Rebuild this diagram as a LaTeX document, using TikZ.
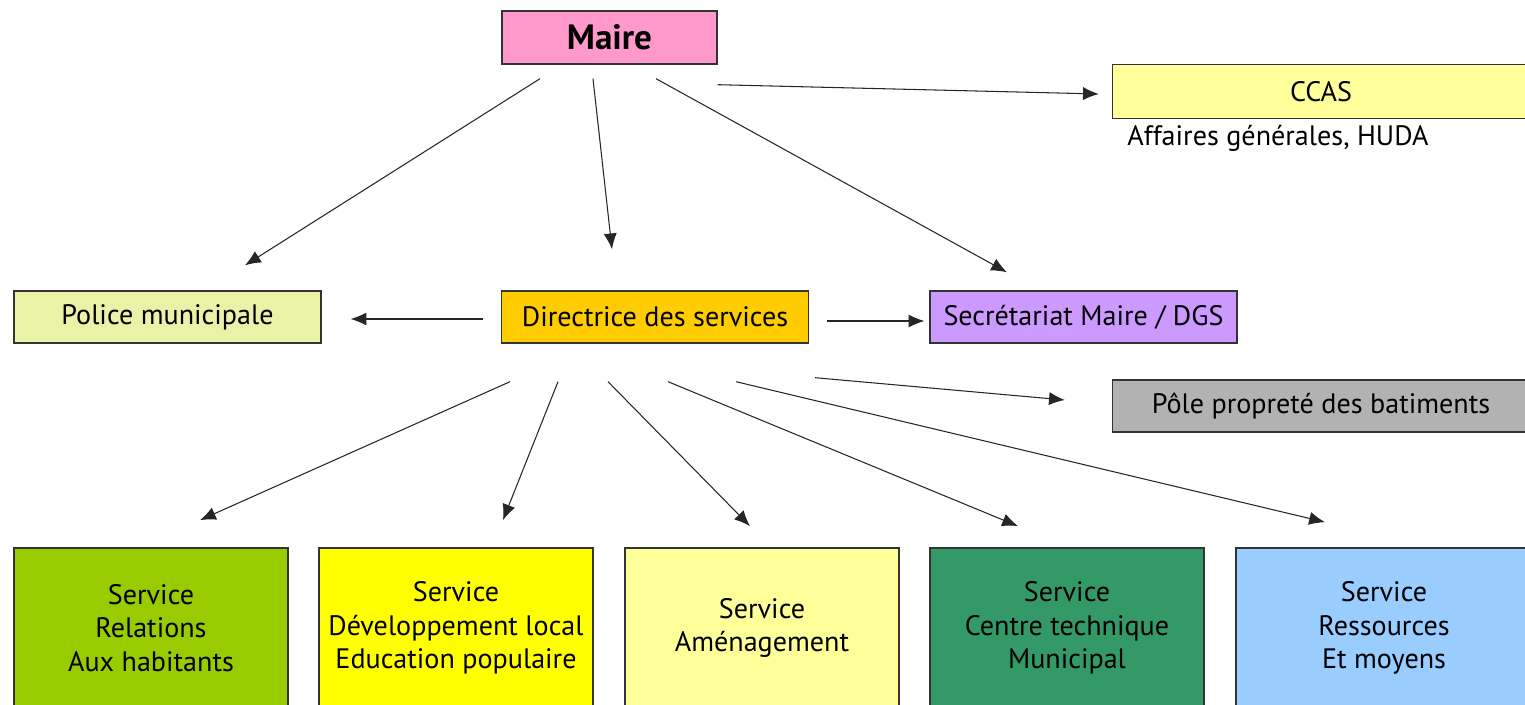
\documentclass[tikz,border=0pt]{standalone}
\usepackage{fontspec}
\setmainfont{PT Sans}
\usetikzlibrary{positioning}
\usetikzlibrary{arrows.meta,calc}
\definecolor{mairepink}{RGB}{255,153,204}
\definecolor{paleyellow}{RGB}{255,255,153}
\definecolor{policegreen}{RGB}{234,242,168}
\definecolor{dirorange}{RGB}{255,204,0}
\definecolor{secrviolet}{RGB}{204,153,255}
\definecolor{polegray}{RGB}{178,178,178}
\definecolor{relgreen}{RGB}{153,204,0}
\definecolor{devyellow}{RGB}{255,255,0}
\definecolor{ctmgreen}{RGB}{51,153,102}
\definecolor{resblue}{RGB}{153,204,255}

\begin{document}
\begin{tikzpicture}[x=0.02cm,y=-0.02cm, %one unit is one pixel of the chart
font=\fontsize{16}{19.2}\selectfont,
boxrow/.style ={rectangle, draw=black!80, line width=0.8pt, minimum width=6.14cm, minimum height=1.04cm, inner sep=0pt},
boxwide/.style ={rectangle, draw=black!80, line width=0.8pt, minimum width=8.34cm, minimum height=1.08cm, inner sep=0pt},
service/.style ={rectangle, draw=black!80, line width=1pt, minimum width=5.48cm, minimum height=3.2cm, align=center, inner sep=0pt},
arr/.style ={-{Latex[length=9pt,width=7.5pt]}, line width=0.6pt, black!85}
]
\useasboundingbox (0,0) rectangle (1525,705);
%top box
\path (609.5,37.5) node[boxrow, fill=mairepink, minimum width=4.3cm, minimum height=1.06cm, font=\fontsize{20}{24}\selectfont\bfseries] (maire) {Maire}
(1321,91.5) node[boxwide, fill=paleyellow] (ccas) {CCAS}
(1127,138) node[anchor=west, inner sep=0pt] (ccasnote) {Affaires générales, HUDA};
%middle row
\path (167.5,317) node[boxrow, fill=policegreen] (police) {Police municipale}
(655,317) node[boxrow, fill=dirorange] (dir) {Directrice des services}
(1083.5,317) node[boxrow, fill=secrviolet] (secr) {Secrétariat Maire / DGS}
(1321,406) node[boxwide, fill=polegray, minimum height=1.04cm] (pole) {Pôle propreté des batiments};
%services
\path (151,628) node[service, fill=relgreen] (rel) {Service\\Relations\\Aux habitants}
(456,628) node[service, fill=devyellow] (dev) {Service\\Développement local\\Education populaire}
(762,628) node[service, fill=paleyellow] (amen) {Service\\Aménagement}
(1067,628) node[service, fill=ctmgreen] (ctm) {Service\\Centre technique\\Municipal}
(1384,628) node[service, fill=resblue, minimum width=5.92cm] (res) {Service\\Ressources\\Et moyens};
%arrows from maire
\draw[arr] ($(maire.south)+(-69.5,14)$) -- ($(police.north)+(77.5,-25)$);
\draw[arr] ($(maire.south)+(-16.5,14)$) -- ($(dir.north)+(-43,-41)$);
\draw[arr] ($(maire.south)+(46.5,14)$) -- ($(secr.north)+(-76.5,-18)$);
\draw[arr] ($(maire.south east)+(0,20)$) -- ($(ccas.west)+(-13,2.5)$);
%arrows from directrice, sideways
\draw[arr] ($(dir.west)+(-18,2)$) -- ($(police.east)+(29,2)$);
\draw[arr] ($(dir.east)+(18,4)$) -- ($(secr.west)+(-5,4)$);
\draw[arr] ($(dir.south)+(160,34)$) -- ($(pole.west)+(-47,-6)$);
%arrows to services
\draw[arr] ($(dir.south)+(-145,38)$) -- ($(rel.north)+(49,-27)$);
\draw[arr] ($(dir.south)+(-97,38)$) -- ($(dev.north)+(47,-27)$);
\draw[arr] ($(dir.south)+(-47,38)$) -- ($(amen.north)+(-12,-21)$);
\draw[arr] ($(dir.south)+(13,38)$) -- ($(ctm.north)+(-49,-21)$);
\draw[arr] ($(dir.south)+(81,38)$) -- ($(res.north)+(-59,-25)$);
\end{tikzpicture}
\end{document}
